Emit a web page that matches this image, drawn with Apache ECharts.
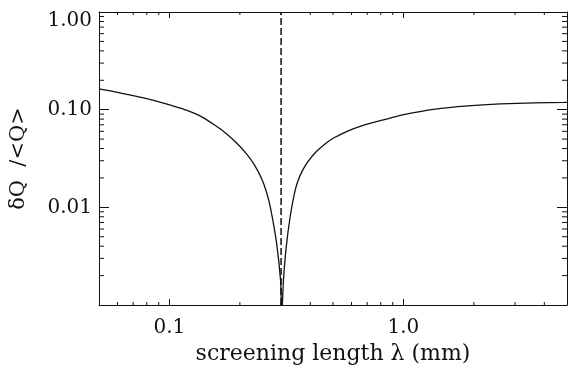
<!DOCTYPE html>
<html>
<head>
<meta charset="utf-8">
<script src="https://cdn.jsdelivr.net/npm/echarts@6/dist/echarts.min.js"></script>
<style>
html, body { margin: 0; padding: 0; background: #fff; }
#chart { width: 570px; height: 370px; }
</style>
</head>
<body>
<div id="chart"></div>
<script>
// screening length (mm) and relative fluctuation
var lambda = [0.05, 0.0579, 0.067, 0.0791, 0.0934, 0.1113, 0.1227, 0.1289, 0.1393, 0.1536, 0.1694, 0.1904,
    0.214, 0.2314, 0.2478, 0.2602, 0.2705, 0.2869, 0.2984, 0.302,
    0.3071, 0.3153, 0.3287, 0.342, 0.3531, 0.3696, 0.3893, 0.4225, 0.4581, 0.4969, 0.5393, 0.5846,
    0.634, 0.688, 0.7464, 0.8638, 0.9806, 1.367, 1.886, 2.602, 3.625, 4.857, 5.0];
var dQ = [0.163, 0.1534, 0.1424, 0.1304, 0.1177, 0.1035, 0.0954, 0.0911, 0.083, 0.0714, 0.0606, 0.0475,
    0.0351, 0.0269, 0.0196, 0.01417, 0.00977, 0.00433, 0.00179, 0.0008,
    0.00179, 0.00385, 0.0083, 0.01385, 0.0183, 0.0236, 0.0291, 0.0368, 0.0438, 0.0504, 0.0559, 0.0611,
    0.0658, 0.0702, 0.0743, 0.0811, 0.088, 0.1012, 0.1092, 0.1144, 0.1174, 0.1188, 0.119];

// position of the dashed marker
var lambdaZero = 0.3;

// axis ranges and labels
var xRange = [0.05, 5];
var yRange = [0.001, 1];
var xTickVals = [0.1, 1];
var xTickText = ['0.1', '1.0'];
var yTickVals = [1, 0.1, 0.01];
var yTickText = ['1.00', '0.10', '0.01'];
var xMinor = [0.06, 0.07, 0.08, 0.09, 0.2, 0.3, 0.4, 0.5, 0.6, 0.7, 0.8, 0.9, 2, 3, 4];
var yMinor = [0.002, 0.003, 0.004, 0.005, 0.006, 0.007, 0.008, 0.009,
    0.02, 0.03, 0.04, 0.05, 0.06, 0.07, 0.08, 0.09,
    0.2, 0.3, 0.4, 0.5, 0.6, 0.7, 0.8, 0.9];

var font = 'DejaVu Serif';
var ink = '#111';

function same(a, b) { return Math.abs(Math.log10(a) - Math.log10(b)) < 1e-6; }

function xLabel(v) {
    for (var i = 0; i < xTickVals.length; i++) if (same(v, xTickVals[i])) return xTickText[i];
    return '';
}
function yLabel(v) {
    for (var i = 0; i < yTickVals.length; i++) {
        if (same(v, yTickVals[i])) return i === 0 ? '{top|' + yTickText[i] + '}' : yTickText[i];
    }
    return '';
}

var chart = echarts.init(document.getElementById('chart'), null, { renderer: 'canvas' });

function line(x1, y1, x2, y2) {
    return { type: 'line', shape: { x1: x1, y1: y1, x2: x2, y2: y2 }, style: { stroke: ink, lineWidth: 1 } };
}

chart.setOption({
    animation: false,
    grid: { left: 98, right: 3, top: 12, bottom: 62 },
    xAxis: [{
        type: 'log', min: xRange[0], max: xRange[1], position: 'bottom',
        axisLine: { lineStyle: { color: ink, width: 1 } },
        axisTick: { inside: true, length: 6, lineStyle: { color: ink } },
        axisLabel: { formatter: xLabel, margin: 13, color: ink, fontFamily: font, fontSize: 20 },
        splitLine: { show: false },
        name: 'screening length \u03bb (mm)', nameLocation: 'middle', nameGap: 38,
        nameTextStyle: { color: ink, fontFamily: font, fontSize: 22 }
    }, {
        type: 'log', min: xRange[0], max: xRange[1], position: 'top',
        axisLine: { lineStyle: { color: ink, width: 1 } },
        axisTick: { inside: true, length: 6, lineStyle: { color: ink } },
        axisLabel: { show: false },
        splitLine: { show: false }
    }],
    yAxis: [{
        type: 'log', min: yRange[0], max: yRange[1], position: 'left',
        axisLine: { lineStyle: { color: ink, width: 1 } },
        axisTick: { inside: true, length: 10, lineStyle: { color: ink } },
        axisLabel: {
            formatter: yLabel, margin: 7, color: ink, fontFamily: font, fontSize: 20,
            rich: { top: { padding: [18, 0, 0, 0], color: ink, fontFamily: font, fontSize: 20 } }
        },
        splitLine: { show: false },
        name: '\u03b4Q  /<Q>', nameLocation: 'middle', nameGap: 70, nameRotate: 90,
        nameTextStyle: { color: ink, fontFamily: font, fontSize: 21 }
    }, {
        type: 'log', min: yRange[0], max: yRange[1], position: 'right',
        axisLine: { lineStyle: { color: ink, width: 1 } },
        axisTick: { inside: true, length: 10, lineStyle: { color: ink } },
        axisLabel: { show: false },
        splitLine: { show: false }
    }],
    series: [{
        type: 'line',
        data: lambda.map(function (x, i) { return [x, dQ[i]]; }),
        showSymbol: false, symbol: 'none', clip: true,
        smooth: 0.2,
        lineStyle: { color: ink, width: 1.3 }
    }, {
        type: 'line',
        data: [[lambdaZero, yRange[0]], [lambdaZero, yRange[1]]],
        showSymbol: false, symbol: 'none',
        lineStyle: { color: ink, width: 1.5, type: [7, 3] }
    }, {
        type: 'custom', silent: true,
        data: xMinor.map(function (x) { return [x, yRange[0]]; }),
        renderItem: function (params, api) {
            var b = api.coord([api.value(0), yRange[0]]);
            var t = api.coord([api.value(0), yRange[1]]);
            return { type: 'group', children: [line(b[0], b[1], b[0], b[1] - 3), line(t[0], t[1], t[0], t[1] + 3)] };
        }
    }, {
        type: 'custom', silent: true,
        data: yMinor.map(function (y) { return [xRange[0], y]; }),
        renderItem: function (params, api) {
            var l = api.coord([xRange[0], api.value(1)]);
            var r = api.coord([xRange[1], api.value(1)]);
            return { type: 'group', children: [line(l[0], l[1], l[0] + 5, l[1]), line(r[0], r[1], r[0] - 5, r[1])] };
        }
    }]
});
</script>
</body>
</html>
